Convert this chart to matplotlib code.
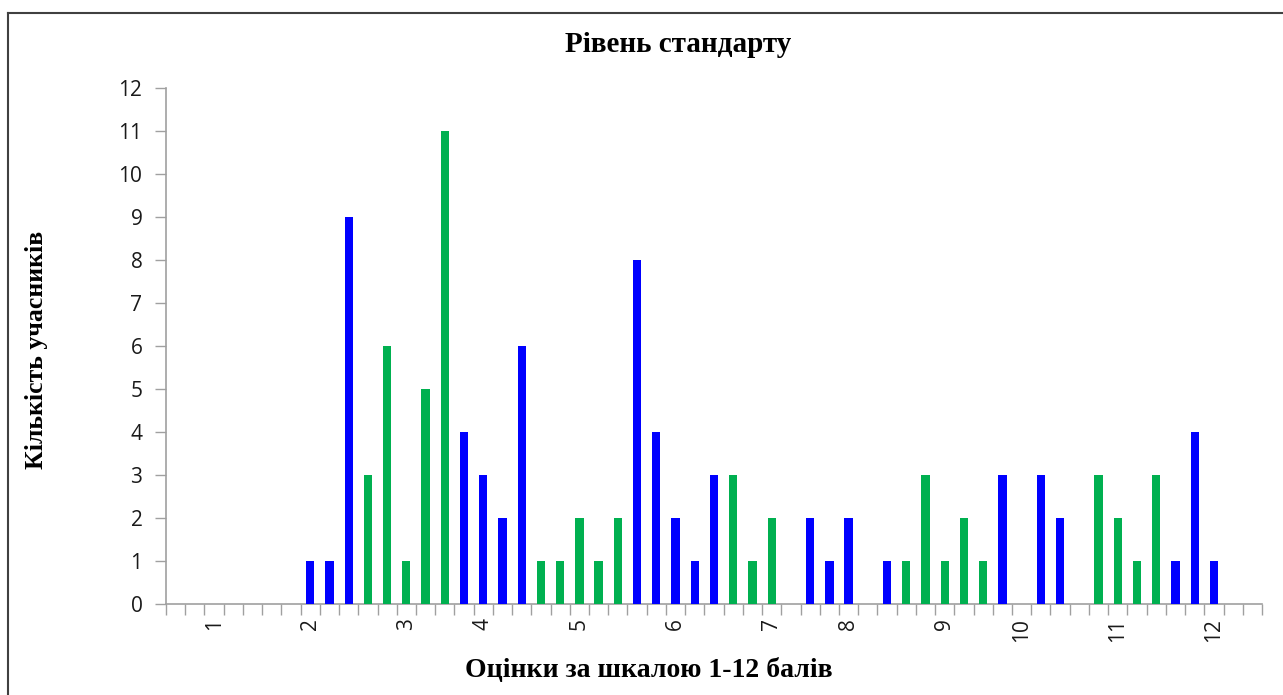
"""Bar chart: Рівень стандарту (distribution of scores)."""
import numpy as np
import matplotlib
matplotlib.use('Agg')
import matplotlib.pyplot as plt
from matplotlib.lines import Line2D

# 57 categories along the x axis, only some carry a label
labels = [''] * 57
for pos, txt in [(2, '1'), (7, '2'), (12, '3'), (16, '4'), (21, '5'), (26, '6'),
                 (31, '7'), (35, '8'), (40, '9'), (44, '10'), (49, '11'), (54, '12')]:
    labels[pos] = txt

blue_vals = [0, 0, 0, 0, 0, 0, 0, 1, 1, 9,
             0, 0, 0, 0, 0, 4, 3, 2, 6, 0,
             0, 0, 0, 0, 8, 4, 2, 1, 3, 0,
             0, 0, 0, 2, 1, 2, 0, 1, 0, 0,
             0, 0, 0, 3, 0, 3, 2, 0, 0, 0,
             0, 0, 1, 4, 1, 0, 0]
green_vals = [0, 0, 0, 0, 0, 0, 0, 0, 0, 0,
              3, 6, 1, 5, 11, 0, 0, 0, 0, 1,
              1, 2, 1, 2, 0, 0, 0, 0, 0, 3,
              1, 2, 0, 0, 0, 0, 0, 0, 1, 3,
              1, 2, 1, 0, 0, 0, 0, 0, 3, 2,
              1, 3, 0, 0, 0, 0, 0]

W, H = 1283, 695
fig = plt.figure(figsize=(W / 100, H / 100), dpi=100)
ax = fig.add_axes([166 / W, 1 - 604 / H, 1096 / W, 516 / H])

x = np.arange(len(labels))
ax.bar(x, blue_vals, width=0.43, color='#0000FF', zorder=3)
ax.bar(x, green_vals, width=0.43, color='#00B050', zorder=3)

ax.set_xlim(-0.5, len(labels) - 0.5)
ax.set_ylim(0, 12)
ax.set_yticks(range(13))

lab_pos = [i for i, t in enumerate(labels) if t]
ax.set_xticks(lab_pos)
ax.set_xticklabels([labels[i] for i in lab_pos], rotation=90)
ax.set_xticks(np.arange(-0.5, len(labels)), minor=True)
ax.tick_params(axis='x', which='major', length=0, pad=10)
ax.tick_params(axis='x', which='minor', length=8, width=1, color='#a0a0a0')
ax.tick_params(axis='y', length=8, width=1, color='#a0a0a0', pad=9)
for lbl in ax.get_xticklabels() + ax.get_yticklabels():
    lbl.set_fontfamily('Open Sans')
    lbl.set_fontsize(15)
    lbl.set_color('#1a1a1a')

for s in ['top', 'right']:
    ax.spines[s].set_visible(False)
for s in ['left', 'bottom']:
    ax.spines[s].set_color('#a0a0a0')
    ax.spines[s].set_linewidth(1.2)

serif = dict(family='Liberation Serif', fontweight='bold')
fig.text(678 / W, 1 - 45 / H, 'Рівень стандарту', ha='center', va='center',
         fontsize=21, **serif)
fig.text(37 / W, 1 - 350 / H, 'Кількість учасників', rotation=90,
         ha='center', va='center', fontsize=18.5, **serif)
fig.text(649 / W, 1 - 670 / H, 'Оцінки за шкалою 1-12 балів',
         ha='center', va='center', fontsize=20, **serif)

# outer chart frame (left and top edges visible)
fig.add_artist(Line2D([8 / W, 8 / W], [0, 1 - 13 / H], transform=fig.transFigure,
                      color='#404040', linewidth=1.5))
fig.add_artist(Line2D([8 / W, 1], [1 - 13 / H, 1 - 13 / H], transform=fig.transFigure,
                      color='#404040', linewidth=1.5))

fig.savefig('out.png', dpi=100)
